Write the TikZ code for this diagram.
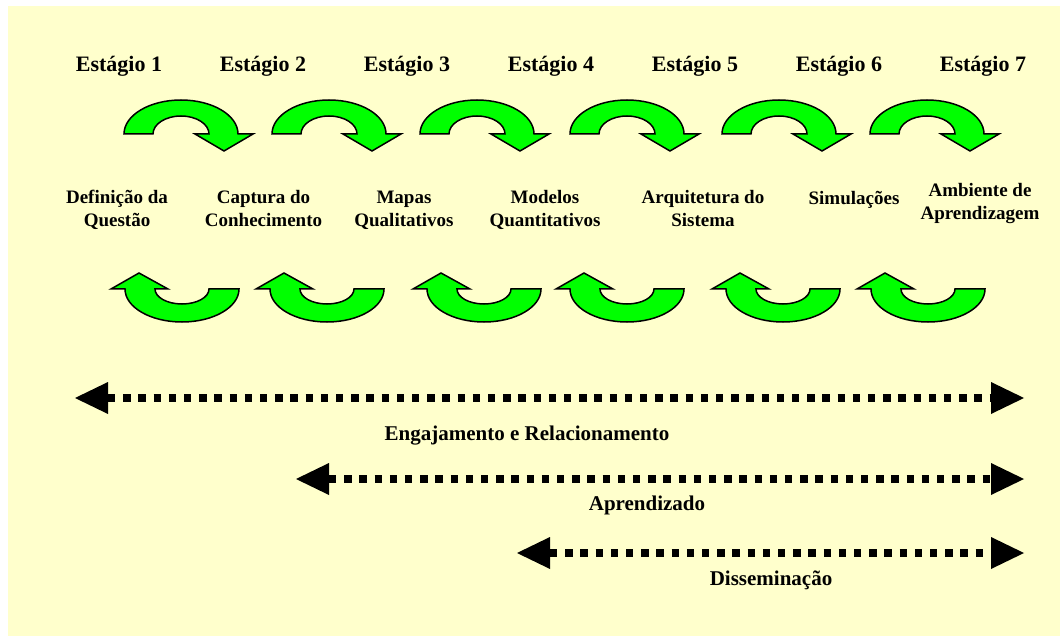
\documentclass[tikz,border=0pt]{standalone}
\usepackage{fontspec}
\setmainfont{Liberation Serif}
\usetikzlibrary{arrows.meta}
\definecolor{paper}{HTML}{FFFFCC}
\definecolor{leaf}{HTML}{00FF00}
\tikzset{
  turn/.style={fill=leaf, draw=black, line width=1.5pt, line join=miter},
  % curved arrow going over the top and pointing down on the right
  overturn/.pic={
    \path[turn] (-57,0) arc[start angle=180, end angle=360, x radius=57, y radius=34]
      -- (72,0) -- (43,17) -- (14,0) -- (28,0)
      arc[start angle=0, end angle=-180, x radius=28, y radius=18] -- cycle;
  },
  % curved arrow going under the bottom and pointing up on the left
  underturn/.pic={
    \path[turn] (57,0) arc[start angle=0, end angle=180, x radius=57, y radius=33]
      -- (-71,0) -- (-43,-16) -- (-14,0) -- (-27,0)
      arc[start angle=180, end angle=0, x radius=27, y radius=15] -- cycle;
  },
  stagehead/.style={font=\bfseries\fontsize{22}{26}\selectfont, inner sep=0pt, anchor=base},
  % anchor=base sits on the baseline of the last line
  stagename/.style={font=\bfseries\fontsize{19}{23}\selectfont, align=center, inner sep=0pt, anchor=base},
  spanlabel/.style={font=\bfseries\fontsize{21}{25}\selectfont, inner sep=0pt},
  span/.style={line width=7.3pt, dash pattern=on 7.3pt off 7.9pt,
    {Triangle[length=33pt, width=32pt, line width=0pt]}-{Triangle[length=33pt, width=32pt, line width=0pt]}},
}
\begin{document}
\begin{tikzpicture}[x=1pt, y=-1pt]
  \useasboundingbox (0,0) rectangle (1060,636);
  \fill[paper] (8,6) rectangle (1060,636);

  % stage headings
  \node[stagehead] (h1) at (119,72) {Estágio 1};
  \node[stagehead] (h2) at (263,72) {Estágio 2};
  \node[stagehead] (h3) at (407,72) {Estágio 3};
  \node[stagehead] (h4) at (551,72) {Estágio 4};
  \node[stagehead] (h5) at (695,72) {Estágio 5};
  \node[stagehead] (h6) at (839,72) {Estágio 6};
  \node[stagehead] (h7) at (983,72) {Estágio 7};

  % forward arrows
  \pic at (181,134) {overturn};
  \pic at (329,134) {overturn};
  \pic at (477,134) {overturn};
  \pic at (627,134) {overturn};
  \pic at (779,134) {overturn};
  \pic at (927,134) {overturn};

  % stage names
  \node[stagename] (s1) at (117,227) {Definição da\\Questão};
  \node[stagename] (s2) at (263.5,227) {Captura do\\Conhecimento};
  \node[stagename] (s3) at (404,227) {Mapas\\Qualitativos};
  \node[stagename] (s4) at (545,227) {Modelos\\Quantitativos};
  \node[stagename] (s5) at (703,227) {Arquitetura do\\Sistema};
  \node[stagename] (s6) at (854,205) {Simulações};
  \node[stagename] (s7) at (980,220) {Ambiente de\\Aprendizagem};

  % feedback arrows
  \pic at (182,289) {underturn};
  \pic at (327,289) {underturn};
  \pic at (484,289) {underturn};
  \pic at (627,289) {underturn};
  \pic at (783,289) {underturn};
  \pic at (928,289) {underturn};

  % spans of the cross-cutting activities
  \coordinate (e0) at (75,398);   \coordinate (e1) at (1024,398);
  \coordinate (a0) at (296,479);  \coordinate (a1) at (1024,479);
  \coordinate (d0) at (517,553);  \coordinate (d1) at (1024,553);
  \draw[span] (e0) -- (e1);
  \draw[span] (a0) -- (a1);
  \draw[span] (d0) -- (d1);
  \node[spanlabel] (le) at (527,436) {Engajamento e Relacionamento};
  \node[spanlabel] (la) at (647,505) {Aprendizado};
  \node[spanlabel] (ld) at (771,580) {Disseminação};
\end{tikzpicture}
\end{document}
